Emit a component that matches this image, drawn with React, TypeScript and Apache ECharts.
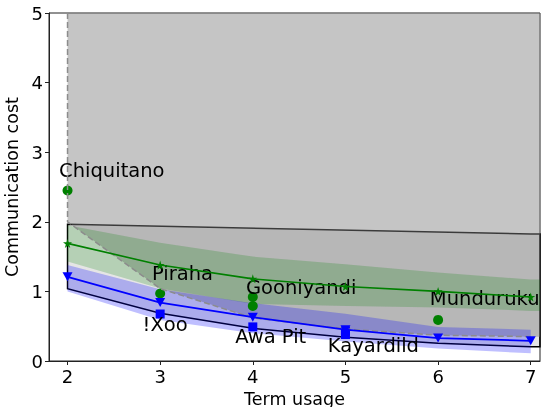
import React, { useEffect, useRef } from "react";
import * as echarts from "echarts";

// ---- data ----
const X = [2, 3, 4, 5, 6, 7];
const X_MIN = 1.8;
const X_MAX = 7.1;
const X_TICKS = [2, 3, 4, 5, 6, 7];

// feasible-region lower boundary (dashed)
const grayLower = [2.0, 1.04, 0.62, 0.46, 0.37, 0.35];
const grayTop = 5;

// bounded box (solid outline)
const boxTopX = [2, 7];
const boxTop = [1.965, 1.825];
const boxBottom = [1.04, 0.685, 0.47, 0.34, 0.255, 0.205];

// green model
const greenMean = [1.69, 1.38, 1.18, 1.07, 1.0, 0.92];
const greenUpper = [1.95, 1.7, 1.5, 1.39, 1.27, 1.17];
const greenLower = [1.43, 1.04, 0.82, 0.79, 0.77, 0.72];

// blue model
const blueMean = [1.21, 0.84, 0.63, 0.45, 0.33, 0.29];
const blueUpper = [1.38, 1.03, 0.83, 0.68, 0.49, 0.45];
const blueLower = [1.0, 0.59, 0.4, 0.28, 0.18, 0.11];

// languages
const circleX = [2, 3, 4, 4, 6];
const circleY = [2.45, 0.97, 0.92, 0.79, 0.59];
const squareX = [3, 4, 5, 5];
const squareY = [0.675, 0.49, 0.43, 0.38];

const labelNames = ["Chiquitano", "Piraha", "!Xoo", "Gooniyandi", "Awa Pit", "Kayardild", "Munduruku"];
const labelX = [2.478, 3.241, 3.053, 4.522, 4.193, 5.302, 6.503];
const labelY = [2.744, 1.259, 0.529, 1.063, 0.345, 0.218, 0.892];

const FONT = "DejaVu Sans";
const STAR = "path://M50,0 L61,35 L98,35 L68,57 L79,91 L50,70 L21,91 L32,57 L2,35 L39,35 Z";

function polygon(points: number[][], style: any) {
  return {
    type: "custom",
    coordinateSystem: "cartesian2d",
    silent: true,
    data: [[X_MIN, 0]],
    renderItem: (_params: any, api: any) => ({
      type: "polygon",
      shape: { points: points.map((p) => api.coord(p)) },
      style,
    }),
  };
}

export default function App() {
  const ref = useRef<HTMLDivElement>(null);
  useEffect(() => {
    if (!ref.current) return;
    const chart = echarts.init(ref.current, null, { renderer: "svg" });

    const boxPts: number[][] = [];
    boxTopX.forEach((x, i) => boxPts.push([x, boxTop[i]]));
    boxPts.push([X_MAX, boxTop[boxTop.length - 1]]);
    boxPts.push([X_MAX, boxBottom[boxBottom.length - 1]]);
    for (let i = X.length - 1; i >= 0; i--) boxPts.push([X[i], boxBottom[i]]);

    const grayPts: number[][] = [[X[0], grayTop], [X_MAX, grayTop], [X_MAX, grayLower[grayLower.length - 1]]];
    for (let i = X.length - 1; i >= 0; i--) grayPts.push([X[i], grayLower[i]]);

    const greenPts: number[][] = X.map((x, i) => [x, greenUpper[i]]);
    greenPts.push([X_MAX, greenUpper[greenUpper.length - 1]]);
    greenPts.push([X_MAX, greenLower[greenLower.length - 1]]);
    for (let i = X.length - 1; i >= 0; i--) greenPts.push([X[i], greenLower[i]]);

    const bluePts: number[][] = X.map((x, i) => [x, blueUpper[i]]);
    for (let i = X.length - 1; i >= 0; i--) bluePts.push([X[i], blueLower[i]]);

    const dashed = [[X[0], grayTop], ...X.map((x, i) => [x, grayLower[i]])];

    chart.setOption({
      animation: false,
      grid: {
        left: 49,
        right: 1,
        top: 13,
        bottom: 46,
        containLabel: false,
        outerBoundsMode: "none",
        show: true,
        borderColor: "#222",
        borderWidth: 1,
        backgroundColor: "transparent",
      },
      xAxis: {
        type: "value",
        min: X_MIN,
        max: X_MAX,
        name: "Term usage",
        nameLocation: "middle",
        nameGap: 28,
        nameTextStyle: { fontFamily: FONT, fontSize: 17.5, color: "#000" },
        axisLine: { show: true, lineStyle: { color: "#222", width: 1 } },
        axisTick: { show: true, length: 4, lineStyle: { color: "#222" }, customValues: X_TICKS },
        axisLabel: { fontFamily: FONT, fontSize: 18, color: "#000", margin: 6, customValues: X_TICKS },
        splitLine: { show: false },
      },
      yAxis: {
        type: "value",
        min: 0,
        max: 5,
        interval: 1,
        name: "Communication cost",
        nameLocation: "middle",
        nameGap: 26,
        nameTextStyle: { fontFamily: FONT, fontSize: 17.5, color: "#000" },
        axisLine: { show: true, lineStyle: { color: "#222", width: 1 } },
        axisTick: { show: true, length: 4, lineStyle: { color: "#222" } },
        axisLabel: { fontFamily: FONT, fontSize: 18, color: "#000", margin: 6 },
        splitLine: { show: false },
      },
      series: [
        polygon(boxPts, { fill: "rgba(0,0,0,0.1)", stroke: "#000", lineWidth: 1.5 }),
        polygon(grayPts, { fill: "rgba(128,128,128,0.46)" }),
        {
          type: "scatter",
          silent: true,
          symbol: "circle",
          symbolSize: 10,
          itemStyle: { color: "#008000", opacity: 1 },
          data: circleX.map((x, i) => [x, circleY[i]]),
        },
        polygon(greenPts, { fill: "rgba(0,128,0,0.21)" }),
        polygon(bluePts, { fill: "rgba(0,0,255,0.25)" }),
        {
          type: "line",
          silent: true,
          symbol: "none",
          data: dashed,
          lineStyle: { color: "#8c8c8c", width: 1.5, type: [6, 3] },
        },
        {
          type: "line",
          silent: true,
          symbol: STAR,
          symbolSize: 9,
          itemStyle: { color: "#008000", opacity: 1 },
          lineStyle: { color: "#008000", width: 1.6 },
          data: X.map((x, i) => [x, greenMean[i]]),
        },
        {
          type: "line",
          silent: true,
          symbol: "triangle",
          symbolRotate: 180,
          symbolSize: [10, 9],
          itemStyle: { color: "#0000ff", opacity: 1 },
          lineStyle: { color: "#0000ff", width: 1.8 },
          data: X.map((x, i) => [x, blueMean[i]]),
        },
        {
          type: "scatter",
          silent: true,
          symbol: "rect",
          symbolSize: 9,
          itemStyle: { color: "#0000ff", opacity: 1 },
          data: squareX.map((x, i) => [x, squareY[i]]),
        },
        {
          type: "scatter",
          silent: true,
          symbolSize: 0,
          itemStyle: { opacity: 1 },
          data: labelNames.map((n, i) => ({ name: n, value: [labelX[i], labelY[i]] })),
          label: {
            show: true,
            position: "inside",
            formatter: (p: any) => p.name,
            fontFamily: FONT,
            fontSize: 19.5,
            color: "#000",
            opacity: 1,
            align: "center",
            verticalAlign: "middle",
          },
        },
      ],
    });
    return () => chart.dispose();
  }, []);
  return <div ref={ref} style={{ position: "fixed", left: 0, top: 0, width: 541, height: 407 }} />;
}
